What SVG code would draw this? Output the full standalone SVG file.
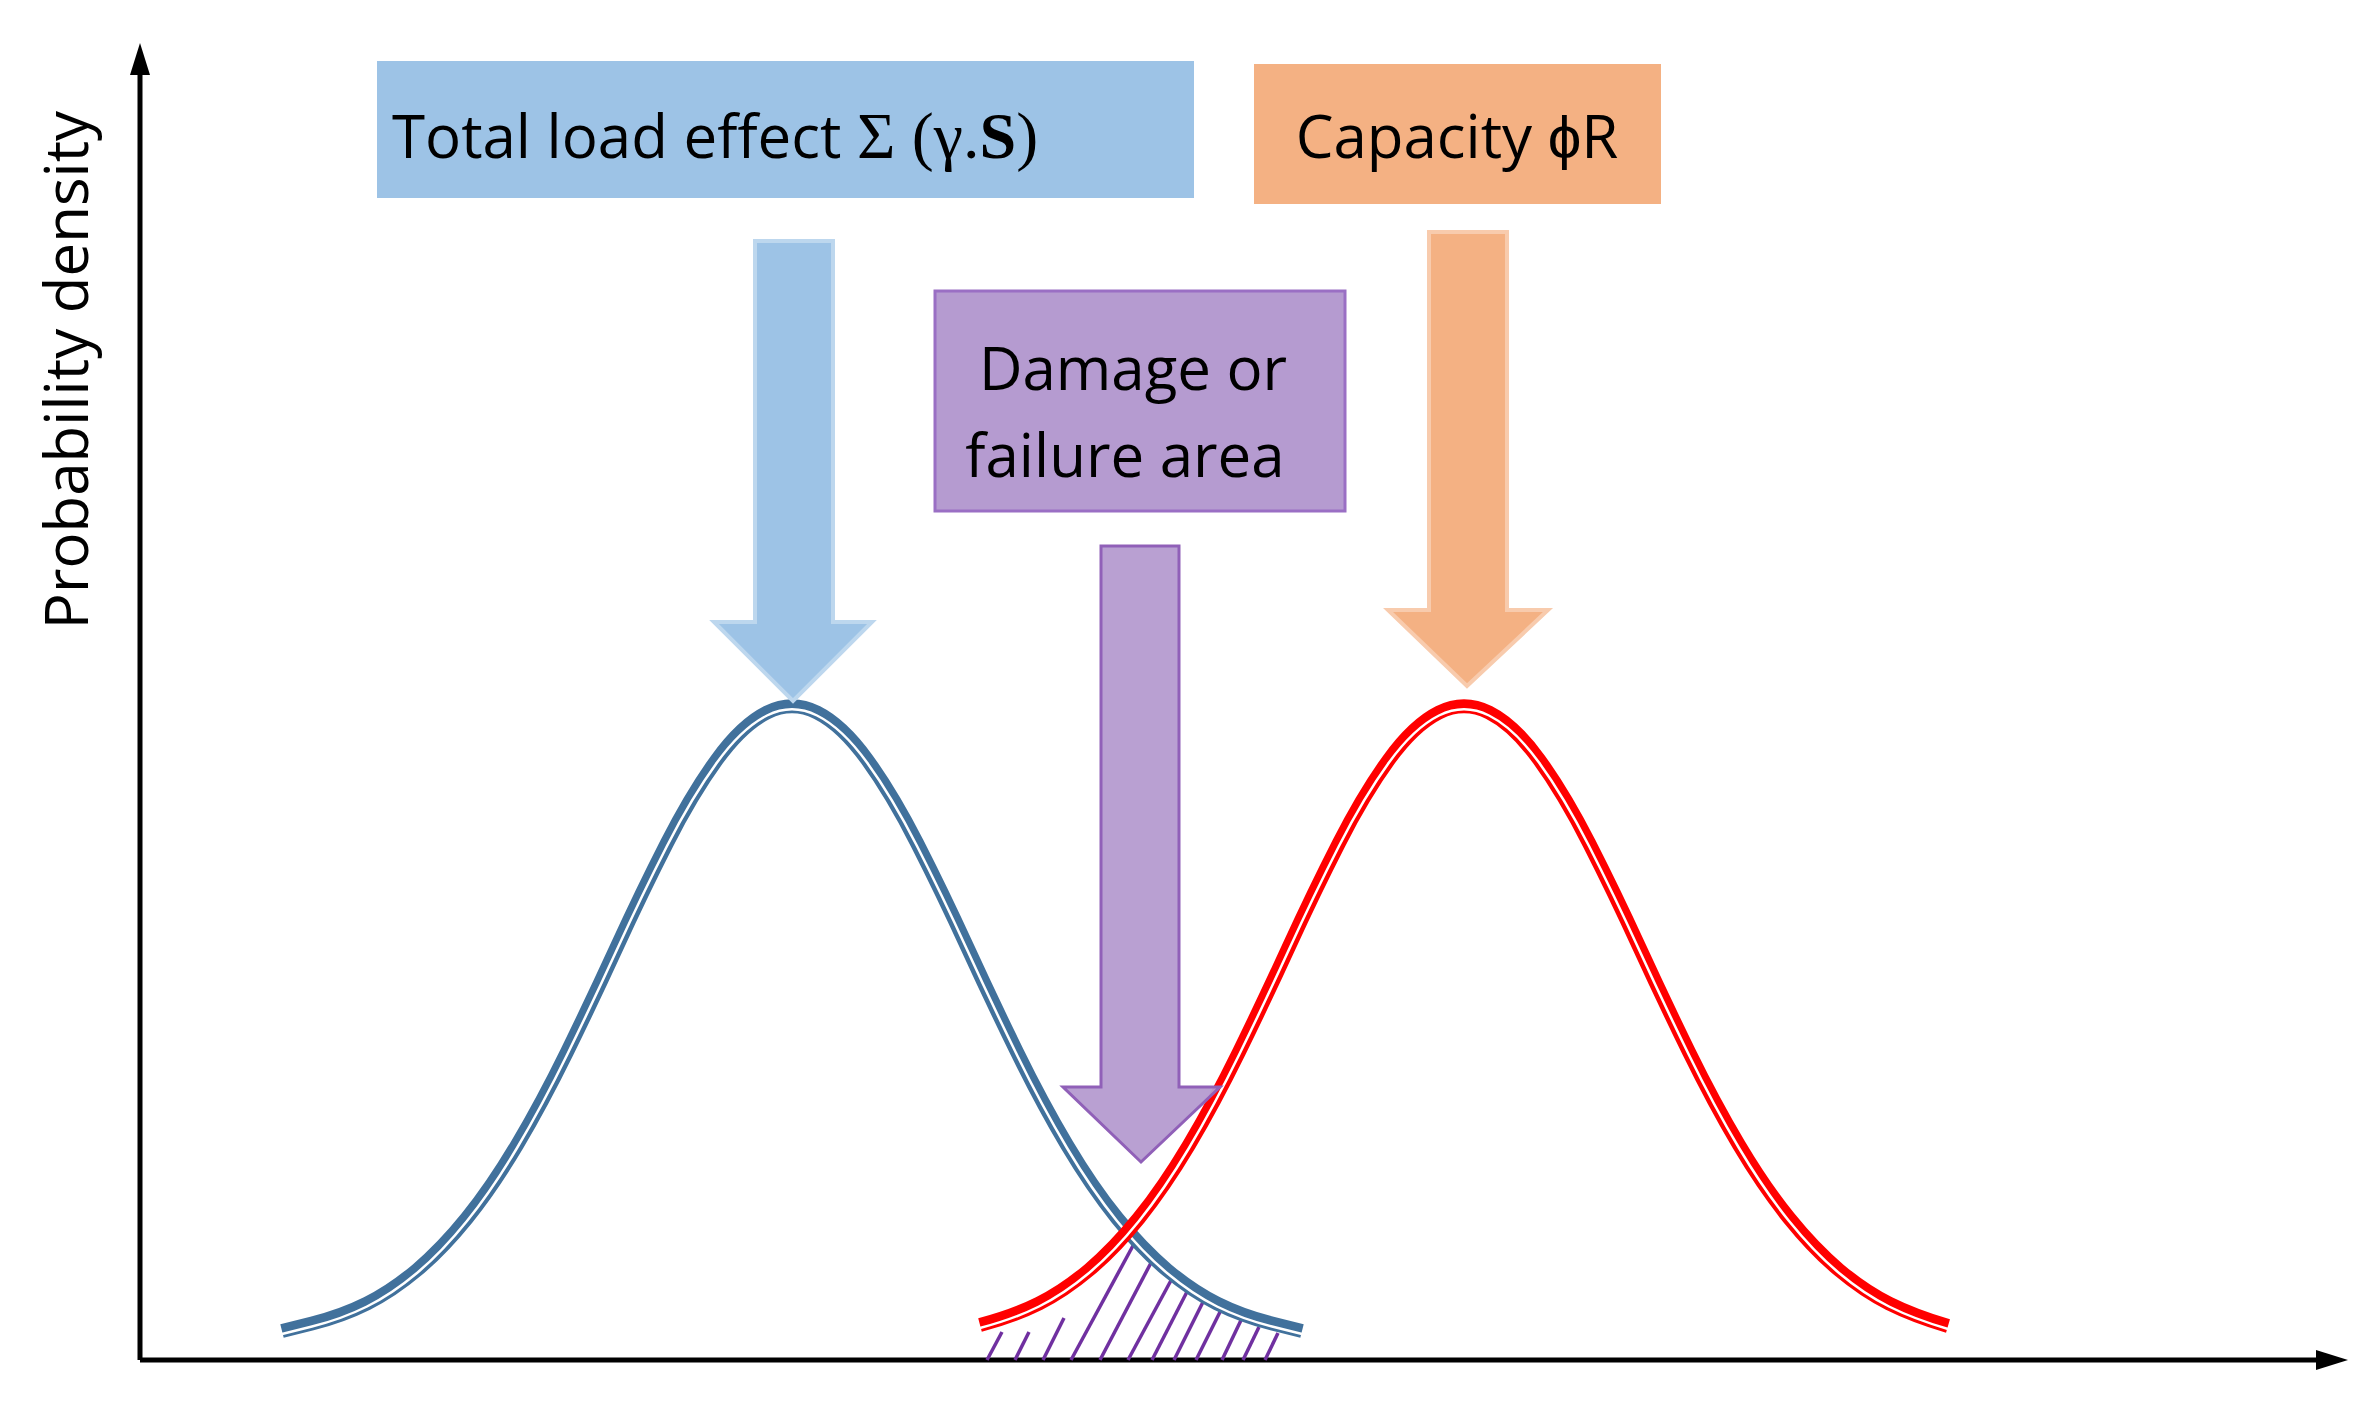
<svg xmlns="http://www.w3.org/2000/svg" width="2379" height="1412" viewBox="0 0 2379 1412">
<style>
.t{font-family:"Open Sans","Liberation Sans",sans-serif;font-size:60px;fill:#000}
.c{fill:none;stroke-width:14;stroke-linejoin:round;stroke-linecap:butt}
.w{fill:none;stroke:#fff;stroke-width:2.5;stroke-linejoin:round}
.h{stroke:#7030A0;stroke-width:3.5}
</style>
<defs>
<path id="bc" d="M282,1331 L312,1323.5 Q342,1316 367,1303.5 Q392,1291 417,1270 Q442,1249 467,1218 Q492,1187 517,1145 Q542,1103 567,1052 Q592,1001 617,946.5 Q642,892 667,843 Q692,794 717,759.5 Q742,725 767,712.5 Q792,700 817,712.5 Q842,725 867,759.5 Q892,794 917,843 Q942,892 967,946.5 Q992,1001 1017,1052 Q1042,1103 1067,1145 Q1092,1187 1117,1218 Q1142,1249 1167,1270 Q1192,1291 1217,1303.5 Q1242,1316 1272,1323.5 L1302,1331"/>
<path id="rc" d="M980,1325 Q1014,1316 1039,1303.5 Q1064,1291 1089,1270 Q1114,1249 1139,1218 Q1164,1187 1189,1145 Q1214,1103 1239,1052 Q1264,1001 1289,946.5 Q1314,892 1339,843 Q1364,794 1389,759.5 Q1414,725 1439,712.5 Q1464,700 1489,712.5 Q1514,725 1539,759.5 Q1564,794 1589,843 Q1614,892 1639,946.5 Q1664,1001 1689,1052 Q1714,1103 1739,1145 Q1764,1187 1789,1218 Q1814,1249 1839,1270 Q1864,1291 1889,1303.5 Q1914,1316 1948,1326"/>
</defs>
<rect width="2379" height="1412" fill="#fff"/>
<g id="axes">
<line x1="140" y1="1360" x2="140" y2="70" stroke="#000" stroke-width="5"/>
<polygon points="140,43 130,75 150,75" fill="#000"/>
<line x1="140" y1="1360" x2="2320" y2="1360" stroke="#000" stroke-width="5"/>
<polygon points="2348,1360 2316,1350 2316,1370" fill="#000"/>
<text class="t" transform="translate(88,370) rotate(-90)" text-anchor="middle" font-size="60">Probability density</text>
</g>
<g id="hatch">
<line class="h" x1="987" y1="1360" x2="1002" y2="1332"/>
<line class="h" x1="1015" y1="1360" x2="1029" y2="1332"/>
<line class="h" x1="1043" y1="1360" x2="1064" y2="1318"/>
<line class="h" x1="1071" y1="1360" x2="1135" y2="1242"/>
<line class="h" x1="1100" y1="1360" x2="1153" y2="1259"/>
<line class="h" x1="1128" y1="1360" x2="1175" y2="1273"/>
<line class="h" x1="1152" y1="1360" x2="1191" y2="1284"/>
<line class="h" x1="1174" y1="1360" x2="1207" y2="1294"/>
<line class="h" x1="1196" y1="1360" x2="1224" y2="1304"/>
<line class="h" x1="1222" y1="1360" x2="1243" y2="1316"/>
<line class="h" x1="1243" y1="1360" x2="1259" y2="1327"/>
<line class="h" x1="1265" y1="1360" x2="1278" y2="1333"/>
</g>
<g id="load-curve">
<use href="#bc" class="c" stroke="#41719C"/>
<use href="#bc" class="w" transform="translate(0,3)"/>
</g>
<g id="capacity-curve">
<use href="#rc" class="c" stroke="#FF0000"/>
<use href="#rc" class="w" transform="translate(0,3)"/>
</g>
<g id="load-box">
<rect x="377" y="61" width="817" height="137" fill="#9DC3E6"/>
<text class="t" x="392" y="158">Total load effect <tspan font-family="Liberation Serif,serif" font-size="66">Σ (γ.<tspan font-weight="bold">S</tspan>)</tspan></text>
</g>
<g id="capacity-box">
<rect x="1254" y="64" width="407" height="140" fill="#F4B183"/>
<text class="t" x="1457" y="158" text-anchor="middle">Capacity ϕR</text>
</g>
<g id="damage-box">
<rect x="935" y="291" width="410" height="220" fill="#B59BD0" stroke="#9A6FC4" stroke-width="3"/>
<text class="t" x="1133" y="390" text-anchor="middle">Damage or</text>
<text class="t" x="1125" y="477" text-anchor="middle">failure area</text>
</g>
<g id="connectors">
<polygon points="755,241 833,241 833,622 872,622 793,701 714,622 755,622" fill="#9DC3E6" stroke="#BDD7EE" stroke-width="4"/>
<polygon points="1429,232 1507,232 1507,610 1548,610 1467,686 1388,610 1429,610" fill="#F4B183" stroke="#F8CBAD" stroke-width="4"/>
<polygon points="1101,546 1179,546 1179,1087 1220,1087 1141,1162 1063,1087 1101,1087" fill="#B59BD0" fill-opacity="0.95" stroke="#9060B8" stroke-width="3"/>
</g>
</svg>
